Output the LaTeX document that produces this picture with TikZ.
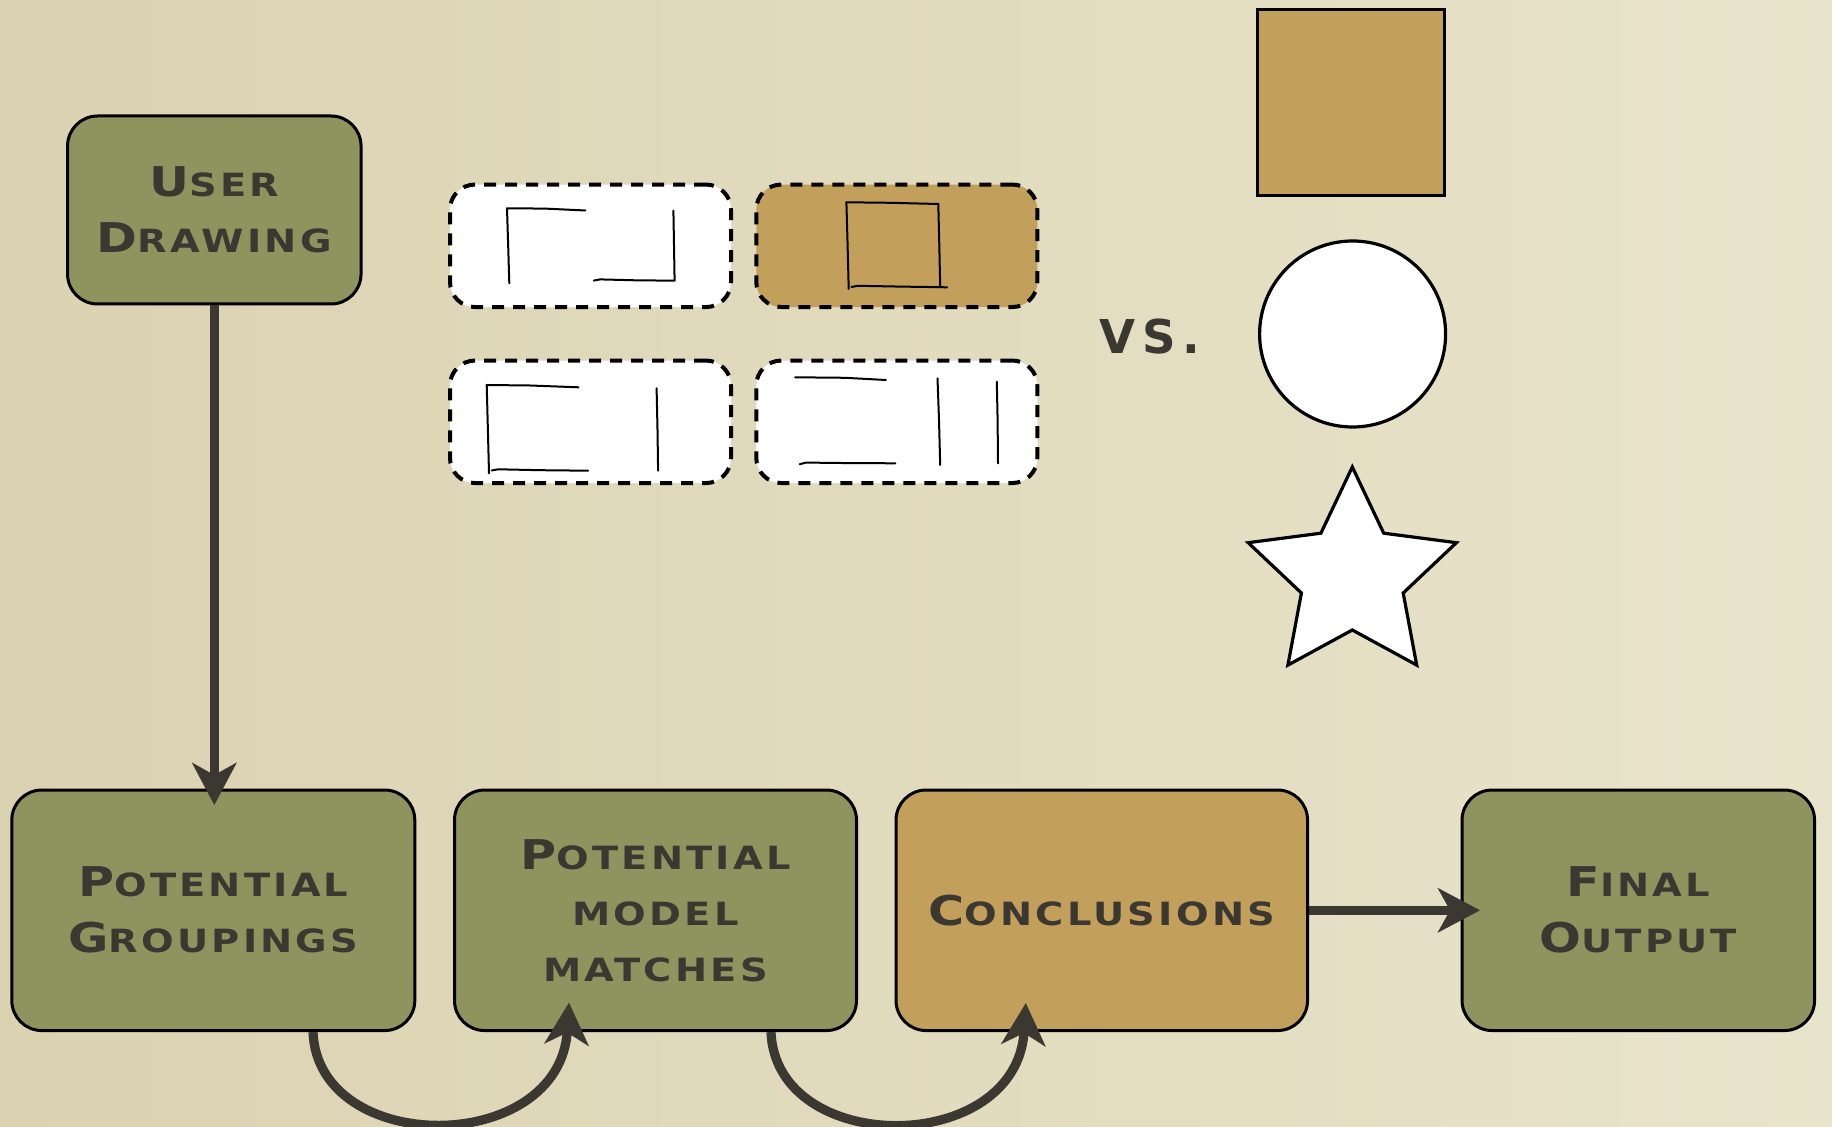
\documentclass[tikz,border=0pt]{standalone}
\usepackage{fontspec}
\usetikzlibrary{arrows.meta,calc}

% wide spaced caps for the box labels
\newfontfamily\cpfont[FakeStretch=1.2,LetterSpace=10]{DejaVu Sans Bold}
\newfontfamily\vsfont[LetterSpace=14]{DejaVu Sans Bold}
\newcommand\bigc[1]{{\fontsize{20.5}{28}\selectfont #1}}

\definecolor{boxgreen}{HTML}{8F945F}
\definecolor{boxtan}{HTML}{C29F5B}
\definecolor{ink}{HTML}{3B3731}
\definecolor{bgleft}{RGB}{219,210,177}
\definecolor{bgright}{RGB}{232,228,203}

\begin{document}
\begin{tikzpicture}[x=0.5pt,y=-0.5pt,
  box/.style={draw=black, line width=1.5pt, rounded corners=15pt, fill=boxgreen,
    text=ink, align=center, inner sep=0pt,
    font=\cpfont\fontsize{16}{28}\selectfont},
  sketchbox/.style={draw=black, line width=2pt, dash pattern=on 6pt off 4.5pt,
    rounded corners=12.5pt, fill=white, minimum width=140.5pt,
    minimum height=61.25pt, inner sep=0pt},
  flow/.style={draw=ink, line width=4.6pt,
    -{Stealth[length=21pt,width=22pt,inset=6pt]}},
  sk/.style={draw=black, line width=1pt, line cap=round, line join=round},
  shapeline/.style={draw=black, line width=1.6pt}]

\useasboundingbox (0,0) rectangle (1832,1127);
\shade[left color=bgleft, right color=bgright] (0,0) rectangle (1832,1127);

% process boxes
\node[box, minimum width=146.75pt, minimum height=94pt] (ud) at (214.3,210)
  {{\bigc U}SER\\{\bigc D}RAWING};
\node[box, minimum width=201.5pt, minimum height=120.25pt] (pg) at (213.3,910.3)
  {{\bigc P}OTENTIAL\\{\bigc G}ROUPINGS};
\node[box, minimum width=201pt, minimum height=120.25pt] (pm) at (655.5,910.3)
  {{\bigc P}OTENTIAL\\MODEL\\MATCHES};
\node[box, fill=boxtan, minimum width=205.75pt, minimum height=120.25pt] (cc) at (1101.8,910.3)
  {{\bigc C}ONCLUSIONS};
\node[box, minimum width=176.25pt, minimum height=120.25pt] (fo) at (1638.3,910.3)
  {{\bigc F}INAL\\{\bigc O}UTPUT};

% candidate groupings
\node[sketchbox] (s1) at (590.5,245.8) {};
\node[sketchbox, fill=boxtan] (s2) at (896.8,245.8) {};
\node[sketchbox] (s3) at (590.5,421.8) {};
\node[sketchbox] (s4) at (896.8,421.8) {};

% hand-drawn strokes inside the groupings
\draw[sk] (585.4,210.5) -- (545,208.6) -- (507,208.3) -- (508.3,250) -- (509.3,283.3);
\draw[sk] (593.8,280.6) -- (600,279.4) -- (635,280.3) -- (674.6,280.7) -- (674,245) -- (673.4,210.7);

\draw[sk] (846.4,202.3) -- (890,202.8) -- (938.3,204);
\draw[sk] (938.3,204) -- (939.3,245) -- (940.2,287.3);
\draw[sk] (846.4,202.3) -- (847.6,245) -- (848.7,289);
\draw[sk] (851.4,287) -- (858,285.8) -- (900,286.6) -- (947.1,287.3);

\draw[sk] (578.5,387.3) -- (530,385.5) -- (486.7,385) -- (487.9,430) -- (489,473.3);
\draw[sk] (491.7,470.5) -- (498,469.3) -- (540,470.2) -- (588.1,470.7);
\draw[sk] (656.6,388.3) -- (657.5,430) -- (658.1,470.7);

\draw[sk] (795.1,377.3) -- (845,377.8) -- (885.8,380);
\draw[sk] (799.7,464.2) -- (806,462.6) -- (850,463.1) -- (895.4,463.3);
\draw[sk] (937.5,378.3) -- (939,420) -- (940.2,465);
\draw[sk] (996.8,381.7) -- (997.6,420) -- (998,463.3);

\node[text=ink, font=\vsfont\fontsize{23.3}{28}\selectfont, inner sep=0pt] (vs) at (1150,337) {VS.};

% model shapes
\draw[shapeline, fill=boxtan] (1257.2,9.5) rectangle (1444.3,195.3);
\draw[shapeline, fill=white] (1352.6,334) circle[radius=93];
\draw[shapeline, fill=white, line join=miter]
  (1352.3,467.0) -- (1383.7,533.2) -- (1456.4,542.7) -- (1403.2,593.0) --
  (1416.7,665.1) -- (1352.3,630.0) -- (1287.9,665.1) -- (1301.4,593.0) --
  (1248.2,542.7) -- (1320.9,533.2) -- cycle;

% connectors
\draw[flow] (ud.south) -- ([yshift=-8.25pt]ud.south |- pg.north);
\draw[flow] (cc.east) -- ([xshift=9.75pt]fo.west);

\coordinate (a1) at ([xshift=49.85pt]pg.south);
\coordinate (b1) at ([xshift=-43.25pt,yshift=14.75pt]pm.south);
\draw[flow] (a1) .. controls ($(a1)+(5,125)$) and ($(b1)+(-9,154)$) .. (b1);

\coordinate (a2) at ([xshift=57.75pt]pm.south);
\coordinate (b2) at ([xshift=-38pt,yshift=14.5pt]cc.south);
\draw[flow] (a2) .. controls ($(a2)+(5,125)$) and ($(b2)+(-9,154)$) .. (b2);

\end{tikzpicture}
\end{document}
